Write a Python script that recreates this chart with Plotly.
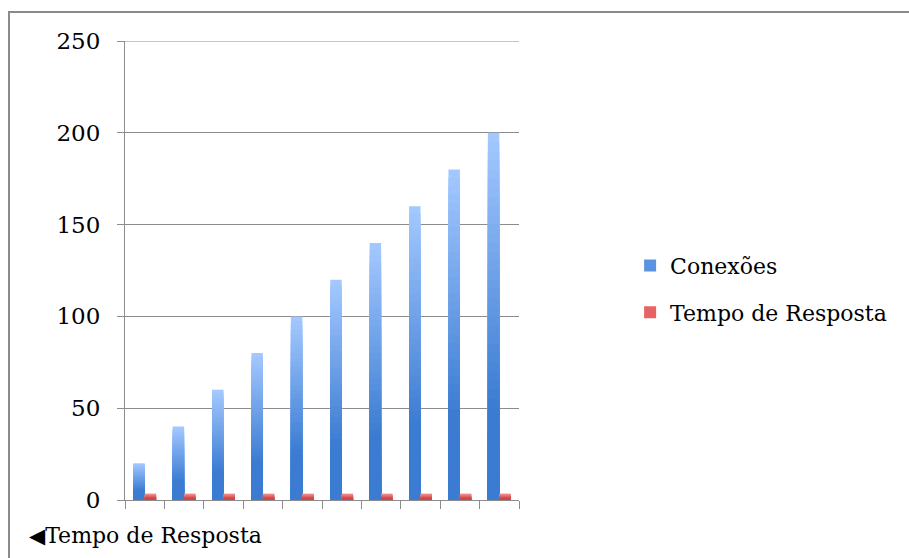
import plotly.graph_objects as go

# Chart data
categorias = list(range(1, 11))
conexoes = [20, 40, 60, 80, 100, 120, 140, 160, 180, 200]
tempo_resposta = [3.5, 3.5, 3.5, 3.5, 3.5, 3.5, 3.5, 3.5, 3.5, 3.5]
y_ticks = [0, 50, 100, 150, 200, 250]

FONT = "DejaVu Serif"
GRID = "#8c8c8c"


def lerp_color(c1, c2, t):
    a = [int(c1[i:i + 2], 16) for i in (1, 3, 5)]
    b = [int(c2[i:i + 2], 16) for i in (1, 3, 5)]
    return "#%02x%02x%02x" % tuple(round(a[j] + (b[j] - a[j]) * t) for j in range(3))


def gradient_bars(fig, values, name, top, bottom, offset, width, steps, legend_color):
    # Each bar is layered from the full height (light top colour) down to
    # progressively shorter, darker copies, which gives a vertical gradient.
    for k in range(steps):
        frac = 1 - k / steps
        t = min(1.0, (k / (steps - 1)) / 0.75)
        fig.add_trace(go.Bar(
            x=categorias,
            y=[v * frac for v in values],
            offset=offset,
            width=width,
            marker=dict(color=lerp_color(top, bottom, t), line=dict(width=0)),
            name=name,
            legendgroup=name,
            showlegend=False,
            hoverinfo="skip" if k else None,
        ))
    fig.add_trace(go.Bar(
        x=[None], y=[None], name=name, legendgroup=name,
        marker=dict(color=legend_color, line=dict(width=0)),
    ))


fig = go.Figure()
gradient_bars(fig, conexoes, "Conexões", "#a3c8ff", "#3b7cd2", -0.29, 0.29, 40, "#5a93e2")
gradient_bars(fig, tempo_resposta, "Tempo de Resposta", "#f49090", "#d24545", 0.0, 0.29, 8, "#e86464")

fig.update_layout(
    width=909,
    height=558,
    barmode="overlay",
    paper_bgcolor="white",
    plot_bgcolor="white",
    margin=dict(l=125, r=390, t=41, b=58),
    font=dict(family=FONT, size=22, color="#000000"),
    showlegend=True,
    legend=dict(
        x=1.282, y=0.556, xanchor="left", yanchor="top",
        font=dict(family=FONT, size=22, color="#000000"),
        tracegroupgap=15,
        bgcolor="rgba(0,0,0,0)",
    ),
    xaxis=dict(
        range=[0.5, 10.5],
        tickvals=[c - 0.5 for c in categorias] + [10.5],
        ticktext=[""] * 11,
        ticks="outside", ticklen=8, tickcolor=GRID, tickwidth=1,
        showgrid=False, zeroline=False,
        showline=True, linecolor=GRID, linewidth=1,
        fixedrange=True,
    ),
    yaxis=dict(
        range=[0, 250],
        tickvals=y_ticks,
        ticks="outside", ticklen=7, tickcolor=GRID, tickwidth=1,
        ticklabelstandoff=12,
        tickfont=dict(family=FONT, size=23, color="#000000"),
        showgrid=True, gridcolor=GRID, gridwidth=1,
        zeroline=False,
        showline=True, linecolor=GRID, linewidth=1,
        fixedrange=True,
    ),
    shapes=[
        dict(
            type="rect", xref="paper", yref="paper",
            x0=-0.2944, x1=2.02, y0=-0.16, y1=1.0632,
            line=dict(color="#8a8a8a", width=2), fillcolor="rgba(0,0,0,0)",
            layer="below",
        ),
        # gridline at the top of the value range
        dict(
            type="line", xref="paper", yref="y",
            x0=0, x1=1, y0=y_ticks[-1], y1=y_ticks[-1],
            line=dict(color=GRID, width=1), layer="below",
        ),
    ],
    annotations=[dict(
        text="<span style='font-size:21px'>◀</span>Tempo de Resposta",
        xref="paper", yref="paper",
        x=-0.2487, y=-0.0763, xanchor="left", yanchor="middle",
        showarrow=False, font=dict(family=FONT, size=22, color="#000000"),
    )],
)

fig.write_html("out.html")
